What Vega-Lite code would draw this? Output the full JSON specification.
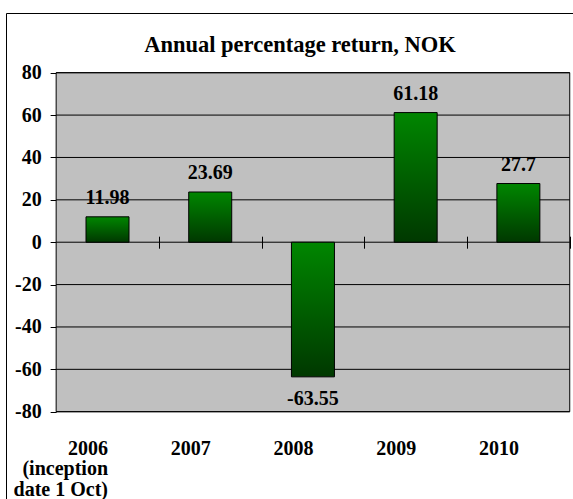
{
  "$schema": "https://vega.github.io/schema/vega-lite/v6.json",
  "width": 567,
  "height": 486,
  "autosize": {"type": "none"},
  "padding": {"left": 6, "top": 13, "right": 0, "bottom": 0},
  "background": "white",
  "config": {
    "view": {"stroke": "#000000", "strokeWidth": 1, "fill": "white"},
    "font": "Liberation Serif, Times New Roman, serif"
  },
  "title": {
    "text": "Annual percentage return, NOK",
    "font": "Liberation Serif, Times New Roman, serif",
    "fontSize": 22.5,
    "fontWeight": "bold",
    "color": "#000000",
    "anchor": "middle",
    "frame": "group",
    "baseline": "alphabetic",
    "offset": -61.4,
    "dx": 10.5
  },
  "datasets": {
    "returns": [
      {"year": "2006", "value": 11.98},
      {"year": "2007", "value": 23.69},
      {"year": "2008", "value": -63.55},
      {"year": "2009", "value": 61.18},
      {"year": "2010", "value": 27.7}
    ],
    "grid": [
      {"year": "2006", "year2": "2010", "v": -80},
      {"year": "2006", "year2": "2010", "v": -60},
      {"year": "2006", "year2": "2010", "v": -40},
      {"year": "2006", "year2": "2010", "v": -20},
      {"year": "2006", "year2": "2010", "v": 0},
      {"year": "2006", "year2": "2010", "v": 20},
      {"year": "2006", "year2": "2010", "v": 40},
      {"year": "2006", "year2": "2010", "v": 60},
      {"year": "2006", "year2": "2010", "v": 80}
    ],
    "plot": [
      {"year": "2006", "year2": "2010", "lo": -80, "hi": 80}
    ]
  },
  "layer": [
    {
      "data": {"name": "plot"},
      "mark": {"type": "rect", "fill": "#C0C0C0", "stroke": "#000000", "strokeWidth": 1},
      "encoding": {
        "x": {"field": "year", "type": "nominal", "bandPosition": -0.6945, "title": null},
        "x2": {"field": "year2", "bandPosition": 1.6945},
        "y": {"field": "lo", "type": "quantitative", "title": null},
        "y2": {"field": "hi"}
      }
    },
    {
      "data": {"name": "grid"},
      "mark": {"type": "rule", "color": "#000000", "strokeWidth": 1},
      "encoding": {
        "x": {"field": "year", "type": "nominal", "bandPosition": -0.6945, "title": null},
        "x2": {"field": "year2", "bandPosition": 1.6945},
        "y": {"field": "v", "type": "quantitative", "title": null}
      }
    },
    {
      "data": {"name": "returns"},
      "mark": {
        "type": "bar",
        "stroke": "#000000",
        "strokeWidth": 1,
        "fill": {
          "gradient": "linear",
          "x1": 0, "y1": 0, "x2": 0, "y2": 1,
          "stops": [
            {"offset": 0, "color": "#008600"},
            {"offset": 1, "color": "#003800"}
          ]
        }
      },
      "encoding": {
        "x": {
          "field": "year",
          "type": "nominal",
          "title": null,
          "sort": ["2006", "2007", "2008", "2009", "2010"],
          "scale": {
            "domain": ["2006", "2007", "2008", "2009", "2010"],
            "paddingInner": 0.5814,
            "paddingOuter": 0.5507,
            "align": 0.7072
          },
          "axis": {
            "orient": "bottom",
            "offset": -262.8,
            "domain": false,
            "grid": false,
            "ticks": true,
            "tickSize": 12,
            "tickColor": "#000000",
            "tickWidth": 1,
            "tickOffset": 51.36,
            "labelOffset": -51.36,
            "labelAngle": 0,
            "labelPadding": 190,
            "labelBaseline": "top",
            "labelFont": "Liberation Serif, Times New Roman, serif",
            "labelFontSize": 20,
            "labelFontWeight": "bold",
            "labelColor": "#000000",
            "labelLineHeight": 20.5,
            "labelExpr": "datum.value == '2006' ? ['2006', '(inception', 'date 1 Oct)'] : datum.value"
          }
        },
        "y": {
          "field": "value",
          "type": "quantitative",
          "title": null,
          "scale": {"domain": [-121.2, 108.18], "nice": false, "zero": false},
          "axis": {
            "orient": "left",
            "offset": -50.14,
            "domain": false,
            "grid": false,
            "values": [-80, -60, -40, -20, 0, 20, 40, 60, 80],
            "tickSize": 6,
            "tickColor": "#000000",
            "tickWidth": 1,
            "labelPadding": 9,
            "labelFont": "Liberation Serif, Times New Roman, serif",
            "labelFontSize": 20,
            "labelFontWeight": "bold",
            "labelColor": "#000000",
            "labelExpr": "'' + datum.value"
          }
        },
        "y2": {"datum": 0}
      }
    },
    {
      "data": {"name": "returns"},
      "transform": [{"filter": "datum.value >= 0"}],
      "mark": {"type": "text", "font": "Liberation Serif, Times New Roman, serif", "fontSize": 20, "fontWeight": "bold", "color": "#000000", "baseline": "alphabetic", "dy": -13},
      "encoding": {
        "x": {"field": "year", "type": "nominal", "title": null},
        "y": {"field": "value", "type": "quantitative", "title": null},
        "text": {"field": "value", "type": "nominal"}
      }
    },
    {
      "data": {"name": "returns"},
      "transform": [{"filter": "datum.value < 0"}],
      "mark": {"type": "text", "font": "Liberation Serif, Times New Roman, serif", "fontSize": 20, "fontWeight": "bold", "color": "#000000", "baseline": "alphabetic", "dy": 28.6},
      "encoding": {
        "x": {"field": "year", "type": "nominal", "title": null},
        "y": {"field": "value", "type": "quantitative", "title": null},
        "text": {"field": "value", "type": "nominal"}
      }
    }
  ]
}
